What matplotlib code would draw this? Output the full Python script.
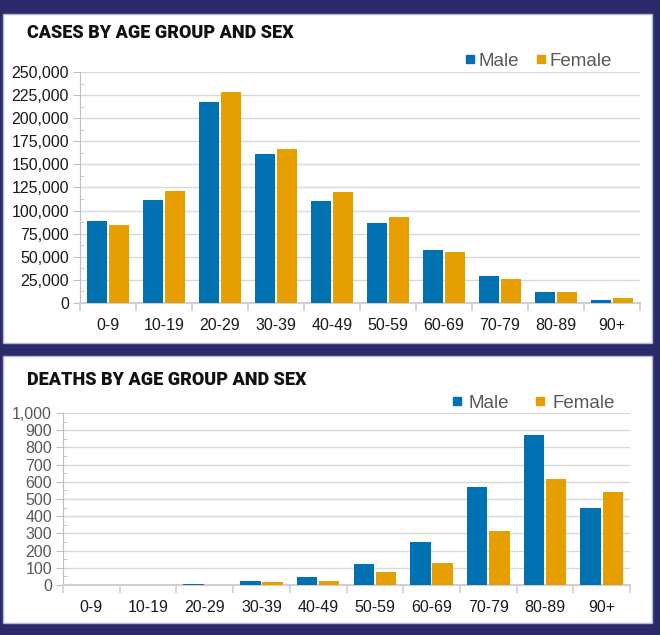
#!/usr/bin/env python3
"""Cases and deaths by age group and sex, two stacked panels."""

import matplotlib

matplotlib.use("Agg")
import matplotlib.pyplot as plt
import numpy as np
from matplotlib.lines import Line2D
from matplotlib.patches import Rectangle
from matplotlib.ticker import FuncFormatter, MultipleLocator

AGE_GROUPS = ["0-9", "10-19", "20-29", "30-39", "40-49", "50-59", "60-69", "70-79", "80-89", "90+"]
CASES_MALE = [89000, 112000, 218000, 161000, 110000, 87000, 57000, 29500, 12000, 3000]
CASES_FEMALE = [84000, 121000, 228000, 167000, 120000, 93500, 55500, 26000, 12000, 5500]
DEATHS_MALE = [0, 0, 5, 25, 45, 120, 250, 567, 870, 445]
DEATHS_FEMALE = [0, 0, 0, 15, 25, 75, 127, 313, 615, 538]

NAVY = "#2b2a6b"
BLUE = "#0072B2"
ORANGE = "#E69F00"
W, H = 660, 635


def fx(px):
    return px / W


def fy(py):
    return 1 - py / H


def panel(fig, x0, y0, x1, y1):
    fig.patches.append(Rectangle((fx(x0), fy(y1)), fx(x1 - x0), (y1 - y0) / H,
                                 transform=fig.transFigure, facecolor="white",
                                 edgecolor="#b8b6d8", linewidth=1, zorder=-5))


def draw_chart(fig, rect_px, male, female, ymax, major, title, title_y,
               legend_xy, textpad, colspace, ylabel_color):
    x0, ytop, x1, ybot = rect_px
    ax = fig.add_axes([fx(x0), fy(ybot), fx(x1 - x0), (ybot - ytop) / H])
    ax.set_facecolor("none")
    x = np.arange(len(AGE_GROUPS))
    bw = 0.36
    off = 0.195
    ax.bar(x - off, male, width=bw, color=BLUE, label="Male", zorder=3)
    ax.bar(x + off, female, width=bw, color=ORANGE, label="Female", zorder=3)
    ax.set_xlim(-0.5, len(AGE_GROUPS) - 0.5)
    ax.set_ylim(0, ymax)
    ax.yaxis.set_major_locator(MultipleLocator(major))
    ax.yaxis.set_minor_locator(MultipleLocator(major / 2))
    ax.yaxis.set_major_formatter(FuncFormatter(lambda v, _: f"{int(v):,}"))
    ax.grid(axis="y", color="#d9d9d9", linewidth=1, zorder=0)
    for s in ["top", "right"]:
        ax.spines[s].set_visible(False)
    ax.spines["left"].set_color("#bfbfbf")
    ax.spines["bottom"].set_color("#d0d0d0")
    ax.spines["bottom"].set_linewidth(1.5)
    ax.tick_params(axis="y", which="major", direction="out", color="#bfbfbf", length=5,
                   labelsize=11.5, labelcolor=ylabel_color, pad=3)
    ax.tick_params(axis="y", which="minor", direction="in", color="#bfbfbf", length=3)
    ax.set_xticks(np.arange(-0.5, len(AGE_GROUPS), 1.0))
    ax.set_xticklabels([])
    ax.set_xticks(x, minor=True)
    ax.set_xticklabels(AGE_GROUPS, minor=True)
    ax.tick_params(axis="x", which="major", direction="out", color="#d0d0d0", length=6, width=1.2)
    ax.tick_params(axis="x", which="minor", length=0, labelsize=11.5, labelcolor="#1a1a1a", pad=11)
    for t in ax.get_yticklabels() + ax.get_xticklabels(minor=True):
        t.set_fontfamily("Liberation Sans")
    fig.text(fx(27), fy(title_y), title, fontsize=13, fontweight="heavy", color="#111111",
             family="Roboto", va="center", ha="left")

    handles = [Line2D([], [], linestyle="none", marker="s", markersize=6.2,
                      markerfacecolor=c, markeredgecolor=c) for c in (BLUE, ORANGE)]
    leg = fig.legend(handles, ["Male", "Female"], loc="center right",
                     bbox_to_anchor=(fx(legend_xy[0]), fy(legend_xy[1])), ncol=2,
                     frameon=False, borderpad=0, borderaxespad=0,
                     handlelength=0.6, handletextpad=textpad, columnspacing=colspace,
                     prop={"family": "Liberation Sans", "size": 13.5})
    for t in leg.get_texts():
        t.set_color("#595959")
    return ax


def main():
    fig = plt.figure(figsize=(W / 100, H / 100), dpi=100)
    fig.patch.set_facecolor(NAVY)
    panel(fig, 3, 14, 652, 343)
    panel(fig, 3, 356, 652, 623)

    draw_chart(fig, (80, 72, 640, 303), CASES_MALE, CASES_FEMALE, 250000, 25000,
               "CASES BY AGE GROUP AND SEX", 33, (612, 61), 0.15, 0.88, "#1a1a1a")
    draw_chart(fig, (63, 413, 630, 585), DEATHS_MALE, DEATHS_FEMALE, 1000, 100,
               "DEATHS BY AGE GROUP AND SEX", 380, (615, 403), 0.35, 1.36, "#595959")

    fig.savefig("out.png", dpi=100, facecolor=fig.get_facecolor())
    plt.close(fig)


if __name__ == "__main__":
    main()
